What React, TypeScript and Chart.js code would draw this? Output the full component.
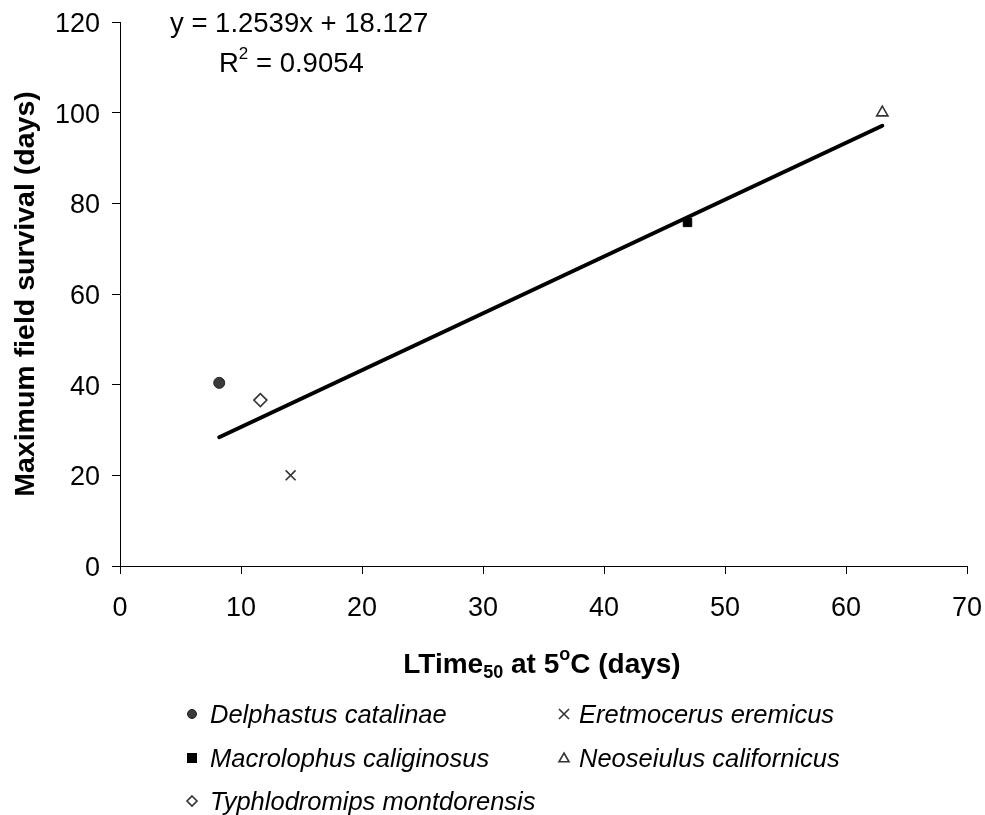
import React, { useEffect, useRef } from 'react';
import { Chart, registerables } from 'chart.js';

Chart.register(...registerables);

// ---- data ----
const speciesNames = [
  'Delphastus catalinae',
  'Eretmocerus eremicus',
  'Macrolophus caliginosus',
  'Neoseiulus californicus',
  'Typhlodromips montdorensis',
];
const ltime50 = [8.2, 14.1, 46.9, 63.0, 11.6];
const maxSurvival = [40.4, 20.0, 75.8, 100.0, 36.6];
const markerStyles = ['circle', 'crossRot', 'rect', 'triangle', 'rectRot'];
const trendSlope = 1.2539;
const trendIntercept = 18.127;
const rSquared = 0.9054;
const xTickValues = [0, 10, 20, 30, 40, 50, 60, 70];
const yTickValues = [0, 20, 40, 60, 80, 100, 120];

const FONT = "'Liberation Sans', Arial, Helvetica, sans-serif";

const markerLook: Record<string, { fill: string; stroke: string; r: number; w: number }> = {
  circle: { fill: '#3a3a3a', stroke: '#222', r: 5.5, w: 1 },
  crossRot: { fill: '#333', stroke: '#333', r: 7, w: 1.6 },
  rect: { fill: '#000', stroke: '#000', r: 6, w: 1 },
  triangle: { fill: '#fff', stroke: '#333', r: 6.5, w: 1.6 },
  rectRot: { fill: '#fff', stroke: '#333', r: 6.5, w: 1.6 },
};

function drawMarker(ctx: CanvasRenderingContext2D, style: string, x: number, y: number, r: number) {
  const look = markerLook[style];
  ctx.save();
  ctx.fillStyle = look.fill;
  ctx.strokeStyle = look.stroke;
  ctx.lineWidth = look.w;
  ctx.beginPath();
  if (style === 'circle') {
    ctx.arc(x, y, r, 0, Math.PI * 2);
    ctx.fill();
    ctx.stroke();
  } else if (style === 'crossRot') {
    ctx.moveTo(x - r, y - r);
    ctx.lineTo(x + r, y + r);
    ctx.moveTo(x + r, y - r);
    ctx.lineTo(x - r, y + r);
    ctx.stroke();
  } else if (style === 'rect') {
    ctx.rect(x - r, y - r, 2 * r, 2 * r);
    ctx.fill();
  } else if (style === 'triangle') {
    ctx.moveTo(x, y - r);
    ctx.lineTo(x + r, y + r * 0.75);
    ctx.lineTo(x - r, y + r * 0.75);
    ctx.closePath();
    ctx.fill();
    ctx.stroke();
  } else if (style === 'rectRot') {
    ctx.moveTo(x, y - r);
    ctx.lineTo(x + r, y);
    ctx.lineTo(x, y + r);
    ctx.lineTo(x - r, y);
    ctx.closePath();
    ctx.fill();
    ctx.stroke();
  }
  ctx.restore();
}

type Run = { t: string; size: number; bold?: boolean; italic?: boolean; dy?: number };

function drawRuns(
  ctx: CanvasRenderingContext2D,
  runs: Run[],
  x: number,
  y: number,
  align: 'left' | 'center' | 'right'
) {
  const fontOf = (r: Run) => `${r.italic ? 'italic ' : ''}${r.bold ? 'bold ' : ''}${r.size}px ${FONT}`;
  let total = 0;
  for (const r of runs) {
    ctx.font = fontOf(r);
    total += ctx.measureText(r.t).width;
  }
  let cx = align === 'center' ? x - total / 2 : align === 'right' ? x - total : x;
  ctx.textAlign = 'left';
  ctx.textBaseline = 'alphabetic';
  for (const r of runs) {
    ctx.font = fontOf(r);
    ctx.fillText(r.t, cx, y + (r.dy || 0));
    cx += ctx.measureText(r.t).width;
  }
}

const overlayPlugin = {
  id: 'overlayText',
  afterDraw(chart: any) {
    const ctx: CanvasRenderingContext2D = chart.ctx;
    const xs = chart.scales.x;
    const ys = chart.scales.y;
    ctx.save();
    ctx.fillStyle = '#000';
    // tick labels
    xTickValues.forEach((v) => {
      drawRuns(ctx, [{ t: String(v), size: 27 }], xs.getPixelForValue(v), 616, 'center');
    });
    yTickValues.forEach((v) => {
      drawRuns(ctx, [{ t: String(v), size: 27 }], 100, ys.getPixelForValue(v) + 10, 'right');
    });
    // regression equation
    drawRuns(ctx, [{ t: `y = ${trendSlope}x + ${trendIntercept}`, size: 27.5 }], 170, 32, 'left');
    drawRuns(
      ctx,
      [
        { t: 'R', size: 27.5 },
        { t: '2', size: 17, dy: -13 },
        { t: ` = ${rSquared}`, size: 27.5 },
      ],
      219,
      72,
      'left'
    );
    // x-axis title
    drawRuns(
      ctx,
      [
        { t: 'LTime', size: 28, bold: true },
        { t: '50', size: 18, bold: true, dy: 5 },
        { t: ' at 5', size: 28, bold: true },
        { t: 'o', size: 18, bold: true, dy: -13 },
        { t: 'C (days)', size: 28, bold: true },
      ],
      542,
      673,
      'center'
    );
    // y-axis title
    ctx.save();
    ctx.translate(34, 294);
    ctx.rotate(-Math.PI / 2);
    drawRuns(ctx, [{ t: 'Maximum field survival (days)', size: 28.5, bold: true }], 0, 0, 'center');
    ctx.restore();
    // legend
    const colMarkerX = [192, 564];
    const colTextX = [210, 579];
    const rowY = [714, 758, 801];
    speciesNames.forEach((name, i) => {
      const c = i % 2;
      const cy = rowY[Math.floor(i / 2)];
      const st = markerStyles[i];
      drawMarker(ctx, st, colMarkerX[c], cy, st === 'crossRot' ? 5 : st === 'rect' ? 5 : st === 'circle' ? 4.5 : 5);
      ctx.fillStyle = '#000';
      drawRuns(ctx, [{ t: name, size: 25.5, italic: true }], colTextX[c], cy + 9, 'left');
    });
    ctx.restore();
  },
};

export default function App() {
  const ref = useRef<HTMLCanvasElement | null>(null);
  useEffect(() => {
    if (!ref.current) return;
    const minX = Math.min(...ltime50);
    const maxX = Math.max(...ltime50);
    const scatterSets = speciesNames.map((name, i) => {
      const st = markerStyles[i];
      const look = markerLook[st];
      return {
        type: 'scatter' as const,
        label: name,
        data: [{ x: ltime50[i], y: maxSurvival[i] }],
        pointStyle: st,
        pointRadius: look.r,
        pointBorderWidth: look.w,
        pointBackgroundColor: look.fill,
        pointBorderColor: look.stroke,
        order: 1,
      };
    });
    const axisGrid = {
      display: true,
      drawOnChartArea: false,
      drawTicks: true,
      tickLength: 8,
      color: '#000',
      lineWidth: 1,
    };
    const chart = new Chart(ref.current, {
      type: 'scatter',
      data: {
        datasets: [
          {
            type: 'line' as const,
            label: 'trend',
            data: [
              { x: minX, y: trendSlope * minX + trendIntercept },
              { x: maxX, y: trendSlope * maxX + trendIntercept },
            ],
            borderColor: '#000',
            borderWidth: 4,
            borderCapStyle: 'round',
            pointRadius: 0,
            fill: false,
            order: 0,
          } as any,
          ...scatterSets,
        ],
      },
      options: {
        animation: false,
        responsive: false,
        layout: { padding: { top: 22, right: 18, left: 0, bottom: 0 } },
        plugins: { legend: { display: false }, tooltip: { enabled: false } },
        scales: {
          x: {
            type: 'linear',
            min: 0,
            max: 70,
            afterBuildTicks: (s: any) => {
              s.ticks = xTickValues.map((v) => ({ value: v }));
            },
            afterFit: (s: any) => {
              s.height = 815 - 566;
              s.paddingLeft = 0;
              s.paddingRight = 0;
            },
            grid: axisGrid,
            border: { display: true, color: '#000', width: 1 },
            ticks: { display: false },
          },
          y: {
            type: 'linear',
            min: 0,
            max: 120,
            afterBuildTicks: (s: any) => {
              s.ticks = yTickValues.map((v) => ({ value: v }));
            },
            afterFit: (s: any) => {
              s.width = 120;
              s.paddingTop = 0;
              s.paddingBottom = 0;
            },
            grid: axisGrid,
            border: { display: true, color: '#000', width: 1 },
            ticks: { display: false },
          },
        },
      },
      plugins: [overlayPlugin],
    } as any);
    return () => chart.destroy();
  }, []);
  return (
    <div style={{ position: 'fixed', left: 0, top: 0, width: 985, height: 815, background: '#fff' }}>
      <canvas ref={ref} width={985} height={815} style={{ display: 'block' }} />
    </div>
  );
}
